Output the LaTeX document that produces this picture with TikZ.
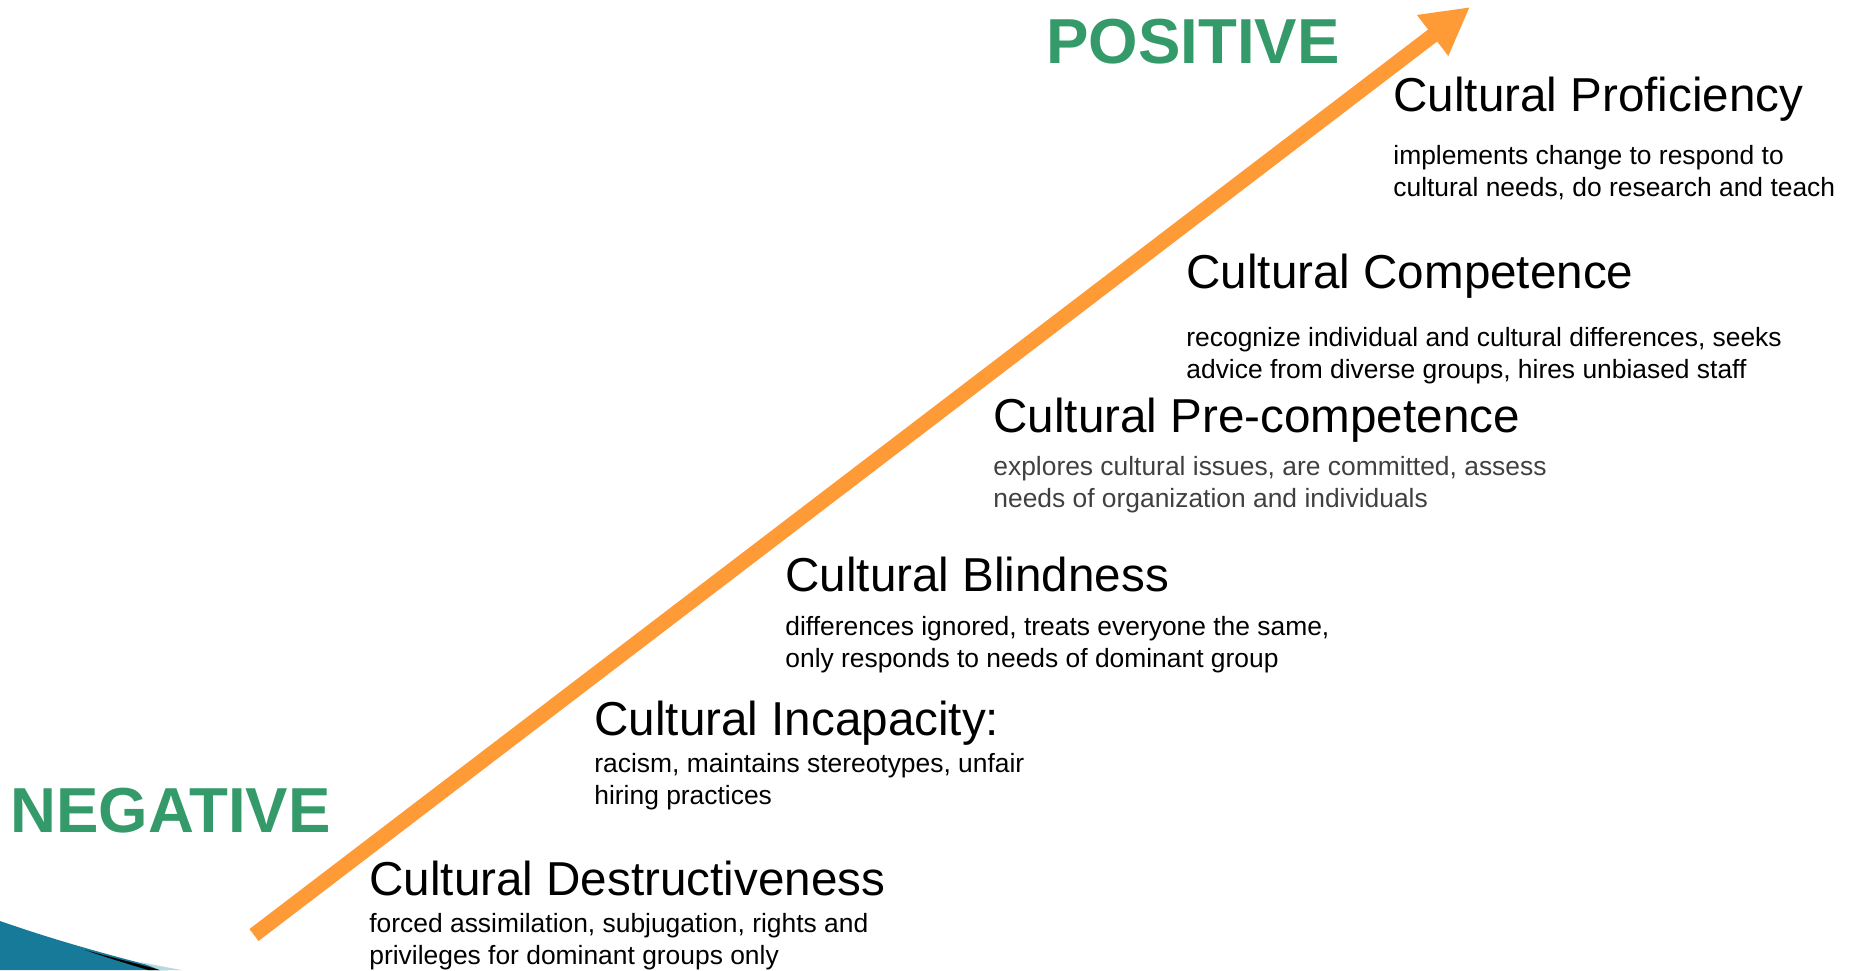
\documentclass[tikz,border=0pt]{standalone}
\usepackage{fontspec}
\setmainfont{Liberation Sans}
\usetikzlibrary{arrows.meta}
\definecolor{posgreen}{RGB}{53, 154, 106}
\definecolor{stairorange}{RGB}{255, 155, 55}
\definecolor{swoosh}{RGB}{22, 122, 152}
\definecolor{softgray}{RGB}{64, 64, 64}

\begin{document}
\begin{tikzpicture}[x=0.5pt, y=-0.5pt,
		pole/.style={inner sep=0, anchor=base west, text=posgreen, font=\fontsize{31.8}{36}\selectfont\bfseries},
		stage/.style={inner sep=0, anchor=base west, font=\fontsize{23.8}{28}\selectfont},
		note/.style={inner sep=0, anchor=base west, align=left, font=\fontsize{13.2}{15.8}\selectfont}]
			\useasboundingbox (0, 0) rectangle (1854, 970);
			% corner swoosh
			\fill [swoosh] (0, 921) .. controls (60, 942) and (120, 958) .. (168, 970) -- (0, 970) -- cycle;
			\fill [black] (85, 950) .. controls (110, 957) and (135, 963) .. (160, 970) -- (148, 970) .. controls (125, 963) and (105, 957) .. (85, 950) -- cycle;
			\fill [swoosh!30] (140, 962) .. controls (155, 965) and (170, 968) .. (182, 970) -- (160, 970) -- cycle;
			% the arrow
			\coordinate (low) at (254, 935);
			\coordinate (high) at (1470, 7);
			\draw [stairorange, line width=7.5pt, -{Triangle[length=23.5pt, width=24pt]}] (low) -- (high);
			% poles
			\node[pole] (positive) at (1046, 63) {POSITIVE};
			\node[pole] (negative) at (10, 832) {NEGATIVE};
			% stages (notes are set by their last line)
			\node[stage] (proficiency) at (1393, 111) {Cultural Proficiency};
			\node[note] (proficiencynote) at (1393, 196) {implements change to respond to\\cultural needs, do research and teach};
			\node[stage] (competence) at (1186, 288) {Cultural Competence};
			\node[note] (competencenote) at (1186, 378) {recognize individual and cultural differences, seeks\\advice from diverse groups, hires unbiased staff};
			\node[stage] (precompetence) at (993, 432) {Cultural Pre-competence};
			\node[note, text=softgray] (precompetencenote) at (993, 507) {explores cultural issues, are committed, assess\\needs of organization and individuals};
			\node[stage] (blindness) at (785, 591) {Cultural Blindness};
			\node[note] (blindnessnote) at (785, 667) {differences ignored, treats everyone the same,\\only responds to needs of dominant group};
			\node[stage] (incapacity) at (594, 735) {Cultural Incapacity:};
			\node[note] (incapacitynote) at (594, 804) {racism, maintains stereotypes, unfair\\hiring practices};
			\node[stage] (destructiveness) at (369, 895) {Cultural Destructiveness};
			\node[note] (destructivenessnote) at (369, 964) {forced assimilation, subjugation, rights and\\privileges for dominant groups only};
		\end{tikzpicture}
\end{document}
